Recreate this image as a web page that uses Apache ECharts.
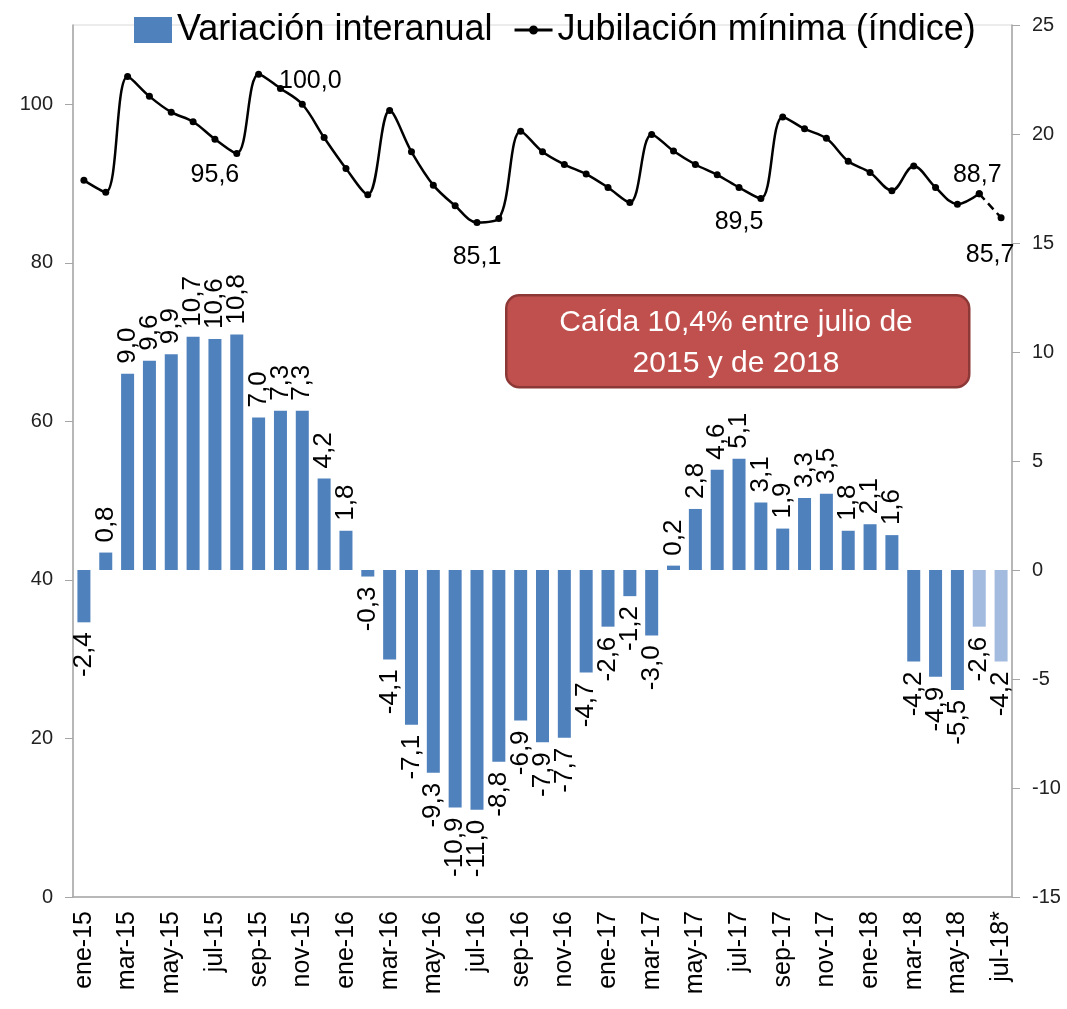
<!DOCTYPE html>
<html>
<head>
<meta charset="utf-8">
<script src="https://cdn.jsdelivr.net/npm/echarts@6/dist/echarts.min.js"></script>
<style>
html,body{margin:0;padding:0;background:#fff;}
#chart{width:1067px;height:1009px;}
</style>
</head>
<body>
<div id="chart"></div>
<script>
const categories = ['ene-15','feb-15','mar-15','abr-15','may-15','jun-15','jul-15','ago-15','sep-15','oct-15','nov-15','dic-15',
  'ene-16','feb-16','mar-16','abr-16','may-16','jun-16','jul-16','ago-16','sep-16','oct-16','nov-16','dic-16',
  'ene-17','feb-17','mar-17','abr-17','may-17','jun-17','jul-17','ago-17','sep-17','oct-17','nov-17','dic-17',
  'ene-18','feb-18','mar-18','abr-18','may-18','jun-18','jul-18*'];
const variacion = [-2.4,0.8,9.0,9.6,9.9,10.7,10.6,10.8,7.0,7.3,7.3,4.2,
  1.8,-0.3,-4.1,-7.1,-9.3,-10.9,-11.0,-8.8,-6.9,-7.9,-7.7,-4.7,
  -2.6,-1.2,-3.0,0.2,2.8,4.6,5.1,3.1,1.9,3.3,3.5,1.8,
  2.1,1.6,-4.2,-4.9,-5.5,-2.6,-4.2];
const indice = [90.4,88.9,103.5,101.0,99.0,97.8,95.6,93.8,103.8,102.0,100.0,95.8,
  91.9,88.6,99.2,94.0,89.8,87.2,85.1,85.6,96.6,94.0,92.4,91.2,
  89.5,87.6,96.2,94.1,92.4,91.1,89.5,88.1,98.4,96.9,95.7,92.8,
  91.4,89.1,92.2,89.5,87.4,88.7,85.7];
const provisional = [41, 42];           // estimated months (lighter bars, dashed line)
const labeledPoints = [6, 10, 18, 30, 41, 42];
const leftTicks = {min: 0, max: 110, interval: 20};
const rightTicks = {min: -15, max: 25, interval: 5};
const noteText = 'Caída 10,4% entre julio de\n2015 y de 2018';

const fmt = v => v.toFixed(1).replace('.', ',');
const FONT = '"Liberation Sans", Arial, sans-serif';

const labelPlacement = {
  6: {position: 'bottom', distance: 20, offset: [0, 0]},
  10: {position: 'top', distance: 7, offset: [8, 0]},
  18: {position: 'bottom', distance: 19, offset: [0, 0]},
  30: {position: 'bottom', distance: 19, offset: [0, 0]},
  41: {position: 'top', distance: 3, offset: [-2, 0]},
  42: {position: 'bottom', distance: 21, offset: [-11, 0]}
};

function pointLabel(i) {
  const p = labelPlacement[i];
  return {show: true, position: p.position, distance: p.distance, offset: p.offset,
    formatter: d => fmt(d.value)};
}

const lastSolid = provisional[0];
const solidData = indice.map((v, i) => {
  if (i > lastSolid) return '-';
  const item = {value: v};
  if (labeledPoints.includes(i)) item.label = pointLabel(i);
  return item;
});
const dashedData = indice.map((v, i) => {
  if (i < lastSolid) return '-';
  const item = {value: v};
  if (i > lastSolid && labeledPoints.includes(i)) item.label = pointLabel(i);
  return item;
});

const barData = variacion.map((v, i) => {
  const item = {value: v};
  if (provisional.includes(i)) item.itemStyle = {color: '#a3bbdf'};
  item.label = v >= 0
    ? {position: 'top', align: 'left', verticalAlign: 'middle'}
    : {position: 'bottom', align: 'right', verticalAlign: 'middle'};
  return item;
});

const lineIcon = 'path://M0,0h0.05v0.05h-0.05z M37.95,25.95h0.05v0.05h-0.05z M0,11.5h38v3h-38z M14.5,13a4.5,4.5 0 1,1 9,0a4.5,4.5 0 1,1 -9,0z';

const chart = echarts.init(document.getElementById('chart'));
chart.setOption({
  animation: false,
  backgroundColor: '#fff',
  textStyle: {fontFamily: FONT, color: '#000'},
  legend: {
    top: 7, left: 129,
    itemWidth: 38, itemHeight: 26, itemGap: 22,
    textStyle: {fontFamily: FONT, fontSize: 36, color: '#000'},
    data: [
      {name: 'Variación interanual', icon: 'rect'},
      {name: 'Jubilación mínima (índice)', icon: lineIcon}
    ]
  },
  grid: {left: 73, right: 55, top: 25, bottom: 112, show: true, borderColor: '#d9d9d9', borderWidth: 1},
  xAxis: {
    type: 'category', data: categories, boundaryGap: true,
    axisLine: {onZero: false, lineStyle: {color: '#a6a6a6', width: 1.5}},
    axisTick: {interval: 0, length: 7, lineStyle: {color: '#a6a6a6'}},
    axisLabel: {interval: 1, rotate: 90, margin: 14, fontSize: 25, color: '#000', fontFamily: FONT},
    splitLine: {show: false}
  },
  yAxis: [
    {
      type: 'value', position: 'left', min: leftTicks.min, max: leftTicks.max, interval: leftTicks.interval,
      axisLine: {show: true, lineStyle: {color: '#a6a6a6', width: 1.5}},
      axisTick: {show: true, length: 8, lineStyle: {color: '#a6a6a6'}},
      axisLabel: {fontSize: 20, color: '#222', margin: 20, showMaxLabel: false, fontFamily: FONT},
      splitLine: {show: false}
    },
    {
      type: 'value', position: 'right', min: rightTicks.min, max: rightTicks.max, interval: rightTicks.interval,
      axisLine: {show: true, lineStyle: {color: '#a6a6a6', width: 1.5}},
      axisTick: {show: true, length: 8, lineStyle: {color: '#a6a6a6'}},
      axisLabel: {fontSize: 20, color: '#222', margin: 20, fontFamily: FONT},
      splitLine: {show: false}
    }
  ],
  series: [
    {
      name: 'Variación interanual', type: 'bar', yAxisIndex: 1, data: barData,
      barWidth: 13,
      itemStyle: {color: '#4f81bd'},
      label: {show: true, rotate: 90, distance: 10, fontSize: 26, color: '#000', fontFamily: FONT,
        formatter: d => fmt(d.value)},
      z: 2
    },
    {
      name: 'Jubilación mínima (índice)', type: 'line', yAxisIndex: 0, data: solidData,
      smooth: 0.35, symbol: 'circle', symbolSize: 7,
      lineStyle: {color: '#000', width: 2.5}, itemStyle: {color: '#000'},
      label: {fontSize: 25, color: '#000', fontFamily: FONT},
      z: 3
    },
    {
      name: 'Jubilación mínima (estimado)', type: 'line', yAxisIndex: 0, data: dashedData,
      symbol: 'circle', symbolSize: 7,
      lineStyle: {color: '#000', width: 2.5, type: [8, 5]}, itemStyle: {color: '#000'},
      label: {fontSize: 25, color: '#000', fontFamily: FONT},
      z: 3
    }
  ],
  graphic: [
    {
      type: 'rect', left: 505, top: 294, z: 10,
      shape: {width: 463, height: 92, r: 13},
      style: {fill: '#c0504d', stroke: '#8c3836', lineWidth: 2.5}
    },
    {
      type: 'text', x: 736, y: 343, z: 11,
      style: {text: noteText, fill: '#fff', fontSize: 30, fontFamily: FONT,
        align: 'center', verticalAlign: 'middle', lineHeight: 41}
    }
  ]
});
</script>
</body>
</html>
